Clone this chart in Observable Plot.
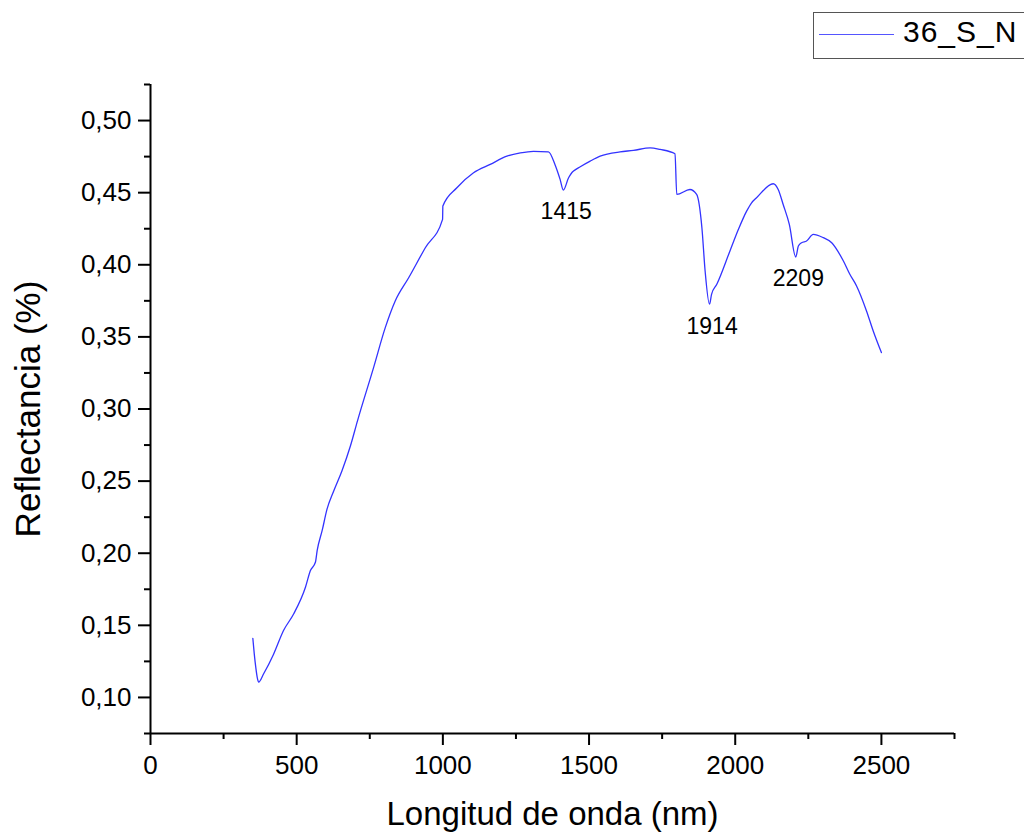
<!DOCTYPE html>
<html>
<head>
<meta charset="utf-8">
<script src="https://cdn.jsdelivr.net/npm/d3@7"></script>
<script src="https://cdn.jsdelivr.net/npm/@observablehq/plot@0.6"></script>
<style>
  html, body { margin: 0; padding: 0; background: #fff; overflow: hidden; }
  #wrap { position: relative; width: 1024px; height: 832px; overflow: hidden; font-family: "Liberation Sans", Arial, sans-serif; }
  #legend { position: absolute; left: 813px; top: 12px; width: 240px; height: 47px; border: 1.5px solid #555; box-sizing: border-box; background: #fff; }
  #legend .sw { position: absolute; left: 5px; top: 21px; width: 75px; height: 0; border-top: 1.5px solid #5555ff; }
  #legend .lb { position: absolute; left: 89px; top: 3px; font-size: 30px; line-height: 32px; letter-spacing: 1px; color: #000; white-space: nowrap; }
</style>
</head>
<body>
<div id="wrap"></div>
<script>
// Spectrum sample 36_S_N
const wavelength = [350, 355, 360, 365, 370, 387, 421, 455, 490, 530, 547, 564, 570, 587, 604, 627, 655, 684, 708, 763, 803, 837, 883, 940, 999, 1000, 1048, 1105, 1162, 1219, 1265, 1310, 1361, 1384, 1401, 1412, 1430, 1441, 1447, 1470, 1504, 1538, 1606, 1652, 1709, 1743, 1794, 1800, 1845, 1868, 1886, 1897, 1912, 1919, 1937, 1982, 2011, 2039, 2056, 2073, 2130, 2147, 2164, 2185, 2207, 2216, 2227, 2244, 2267, 2301, 2330, 2370, 2392, 2415, 2449, 2472, 2500];
const reflectance = [0.141, 0.130, 0.121, 0.114, 0.1106, 0.1164, 0.130, 0.1464, 0.158, 0.1764, 0.188, 0.1937, 0.2018, 0.2156, 0.2307, 0.2433, 0.2572, 0.2745, 0.2918, 0.3287, 0.3564, 0.3749, 0.391, 0.4118, 0.4315, 0.4407, 0.4534, 0.4638, 0.4696, 0.4753, 0.4776, 0.4787, 0.4783, 0.4692, 0.4592, 0.4518, 0.4603, 0.4638, 0.465, 0.468, 0.4719, 0.4753, 0.4783, 0.4793, 0.4811, 0.480, 0.477, 0.4488, 0.4522, 0.4488, 0.4257, 0.3957, 0.3727, 0.3795, 0.3865, 0.4096, 0.4246, 0.4372, 0.443, 0.4465, 0.4562, 0.4522, 0.4418, 0.428, 0.4054, 0.413, 0.4153, 0.4165, 0.4211, 0.4188, 0.4153, 0.4026, 0.3934, 0.3853, 0.368, 0.3541, 0.3391];

const peakX = [1415, 1914, 2209];
const peakY = [0.4518, 0.3727, 0.4054];

const xMajor = [0, 500, 1000, 1500, 2000, 2500];
const xMinor = [250, 750, 1250, 1750, 2250, 2750];
const yMajor = [0.10, 0.15, 0.20, 0.25, 0.30, 0.35, 0.40, 0.45, 0.50];
const yMinor = [0.075, 0.125, 0.175, 0.225, 0.275, 0.325, 0.375, 0.425, 0.475, 0.525];

const seriesName = "36_S_N";
const xTitle = "Longitud de onda (nm)";
const yTitle = "Reflectancia (%)";

const spectrum = wavelength.map((w, i) => ({w, r: reflectance[i]}));
const peaks = peakX.map((w, i) => ({w, r: peakY[i]}));
const comma = d => d.toFixed(2).replace(".", ",");

const chart = Plot.plot({
  width: 1024,
  height: 832,
  marginLeft: 150,
  marginRight: 70,
  marginTop: 84,
  marginBottom: 99,
  style: {fontFamily: "Liberation Sans, Arial, sans-serif", fontSize: "26px", color: "#000", background: "#fff"},
  x: {domain: [0, 2750]},
  y: {domain: [0.075, 0.525]},
  marks: [
    Plot.axisX(xMajor, {tickSize: 12, tickPadding: 10, strokeWidth: 2, fontSize: 26, label: null, tickFormat: d => String(d)}),
    Plot.axisX(xMinor, {tickSize: 6, strokeWidth: 2, label: null, tickFormat: () => ""}),
    Plot.axisY(yMajor, {tickSize: 12, tickPadding: 7, strokeWidth: 2, fontSize: 26, label: null, tickFormat: comma}),
    Plot.axisY(yMinor, {tickSize: 6, strokeWidth: 2, label: null, tickFormat: () => ""}),
    Plot.ruleY([0.075], {stroke: "#000", strokeWidth: 2}),
    Plot.ruleX([0], {stroke: "#000", strokeWidth: 2}),
    Plot.line(spectrum, {x: "w", y: "r", stroke: "#3333ff", strokeWidth: 1.3, curve: "monotone-x"}),
    Plot.text(peaks, {x: "w", y: "r", text: d => String(d.w), dy: 22, dx: 2, fontSize: 23, fill: "#000", lineAnchor: "middle"}),
    Plot.text([xTitle], {frameAnchor: "bottom", dy: 81, fontSize: 33, lineAnchor: "middle", textAnchor: "middle", fill: "#000"}),
    Plot.text([yTitle], {frameAnchor: "left", dx: -122, rotate: -90, fontSize: 35, lineAnchor: "middle", textAnchor: "middle", fill: "#000"})
  ]
});

const wrap = document.getElementById("wrap");
wrap.appendChild(chart);
const legend = document.createElement("div");
legend.id = "legend";
legend.innerHTML = '<div class="sw"></div><div class="lb"></div>';
legend.querySelector(".lb").textContent = seriesName;
wrap.appendChild(legend);
</script>
</body>
</html>
